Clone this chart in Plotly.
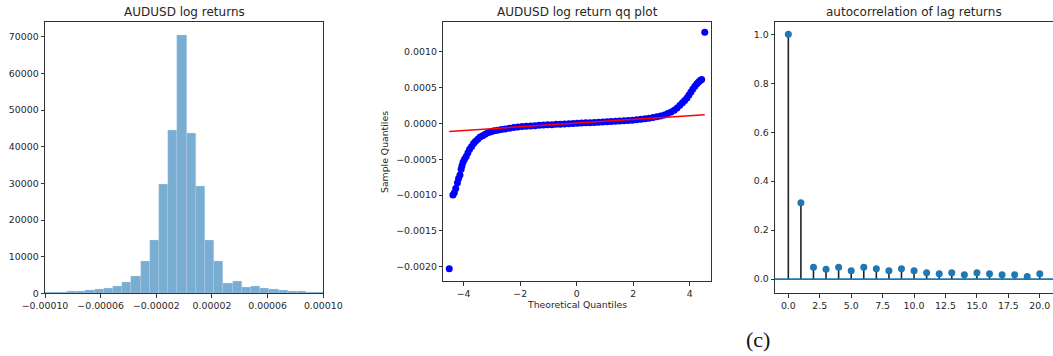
import plotly.graph_objects as go

# ---------------- data ----------------
# Histogram of AUDUSD log returns (uniform bins)
hist_bin_start = -1.04e-4
hist_bin_width = 6.61e-6
hist_counts = [280, 280, 280, 460, 460, 740, 1020, 1390, 1850, 2960,
               4630, 8800, 14600, 29800, 44400, 70400, 43800, 29200, 14400, 8800,
               2780, 3240, 1670, 1850, 1300, 1020, 740, 460, 460, 280, 280]
hist_xticks = [-0.0001, -0.00006, -0.00002, 0.00002, 0.00006, 0.0001]
hist_xticklabels = ["\u22120.00010", "\u22120.00006", "\u22120.00002", "0.00002", "0.00006", "0.00010"]
hist_yticks = [0, 10000, 20000, 30000, 40000, 50000, 60000, 70000]

# QQ plot
qq_theoretical = [-4.51, -4.38, -4.33, -4.28, -4.22, -4.18, -4.13, -4.09, -4.06, -4.02,
                  -3.97, -3.91, -3.85, -3.79, -3.72, -3.65, -3.58, -3.50, -3.42, -3.33,
                  -3.24, -3.14, -3.03, -2.92, -2.80, -2.67, -2.53, -2.38, -2.23, -2.08,
                  -1.93, -1.78, -1.63, -1.48, -1.33, -1.18, -1.03, -0.88, -0.73, -0.58,
                  -0.43, -0.28, -0.13, 0.02, 0.17, 0.32, 0.47, 0.62, 0.77, 0.92,
                  1.07, 1.22, 1.37, 1.52, 1.67, 1.82, 1.97, 2.12, 2.27, 2.42,
                  2.56, 2.70, 2.84, 2.97, 3.10, 3.22, 3.34, 3.45, 3.55, 3.65,
                  3.74, 3.82, 3.90, 3.97, 4.04, 4.11, 4.18, 4.25, 4.31, 4.37,
                  4.42, 4.53]
qq_sample = [-0.00203, -0.00100, -0.00097, -0.00091, -0.00083, -0.00077, -0.00072, -0.00064, -0.00059, -0.00054,
             -0.00050, -0.00046, -0.00041, -0.00036, -0.00032, -0.00028, -0.00025, -0.00022, -0.00019, -0.00017,
             -0.00015, -0.00013, -0.000115, -0.000103, -0.000093, -0.000084, -0.000076, -0.000066, -0.000057, -0.000049,
             -0.000043, -0.000038, -0.000034, -0.000030, -0.000026, -0.000022, -0.000019, -0.000016, -0.000012, -0.000009,
             -0.000006, -0.000003, 0.000000, 0.000003, 0.000006, 0.000009, 0.000012, 0.000015, 0.000018, 0.000021,
             0.000024, 0.000027, 0.000030, 0.000034, 0.000038, 0.000042, 0.000047, 0.000052, 0.000058, 0.000065,
             0.000073, 0.000082, 0.000093, 0.000105, 0.000120, 0.000138, 0.000160, 0.000185, 0.000215, 0.000255,
             0.000290, 0.000322, 0.000358, 0.000398, 0.000440, 0.000482, 0.000522, 0.000556, 0.000580, 0.000600,
             0.000615, 0.001274]
qq_line_slope = 2.57e-5
qq_line_intercept = 5e-6
qq_xticks = [-4, -2, 0, 2, 4]
qq_yticks = [-0.0020, -0.0015, -0.0010, -0.0005, 0.0, 0.0005, 0.0010]

# Autocorrelation
acf_lags = list(range(21))
acf_values = [1.0, 0.312, 0.048, 0.040, 0.048, 0.034, 0.048, 0.042, 0.034, 0.042,
              0.034, 0.026, 0.022, 0.026, 0.018, 0.026, 0.022, 0.018, 0.018, 0.011, 0.022]

titles = ["AUDUSD log returns", "AUDUSD log return qq plot", "autocorrelation of lag returns"]

# ---------------- figure ----------------
W, H = 1053, 356
FONT = "DejaVu Sans"
TXT = "#262626"
SPINE = "#333333"
BLUE = "#1f77b4"

fig = go.Figure()

# Histogram (bars drawn through the bar trace and axis scale)
centers = [hist_bin_start + (i + 0.5) * hist_bin_width for i in range(len(hist_counts))]
fig.add_trace(go.Bar(x=centers, y=hist_counts, width=hist_bin_width,
                     marker=dict(color="rgba(31,119,180,0.6)",
                                 line=dict(color="rgba(200,222,240,0.6)", width=0.5)),
                     xaxis="x", yaxis="y", showlegend=False))

# QQ scatter + reference line
fig.add_trace(go.Scatter(x=qq_theoretical, y=qq_sample, mode="markers",
                         marker=dict(color="#0000ff", size=7),
                         xaxis="x2", yaxis="y2", showlegend=False))
qx = [min(qq_theoretical), max(qq_theoretical)]
fig.add_trace(go.Scatter(x=qx, y=[qq_line_intercept + qq_line_slope * v for v in qx], mode="lines",
                         line=dict(color="#ff0000", width=1.5),
                         xaxis="x2", yaxis="y2", showlegend=False))

# ACF stems
sx, sy = [], []
for lag, v in zip(acf_lags, acf_values):
    sx += [lag, lag, None]
    sy += [0, v, None]
fig.add_trace(go.Scatter(x=sx, y=sy, mode="lines", line=dict(color="#222222", width=1.6),
                         xaxis="x3", yaxis="y3", showlegend=False))
fig.add_trace(go.Scatter(x=[-2, 22], y=[0, 0], mode="lines", line=dict(color=BLUE, width=1.8),
                         xaxis="x3", yaxis="y3", showlegend=False))
fig.add_trace(go.Scatter(x=acf_lags, y=acf_values, mode="markers",
                         marker=dict(color=BLUE, size=7),
                         xaxis="x3", yaxis="y3", showlegend=False))

def ax(**kw):
    base = dict(showgrid=False, zeroline=False, showline=True, mirror=True,
                linecolor=SPINE, linewidth=1, ticks="outside", ticklen=3.5,
                tickwidth=0.9, tickcolor=SPINE, automargin=False,
                tickfont=dict(family=FONT, size=9.4, color=TXT))
    base.update(kw)
    return base

def px_x(p):
    return p / W

def px_y(p):
    return 1 - p / H

fig.update_layout(
    width=W, height=H,
    margin=dict(l=0, r=0, t=0, b=0, autoexpand=False),
    paper_bgcolor="white", plot_bgcolor="white",
    bargap=0,
    xaxis=ax(domain=[px_x(45), px_x(323.3)], range=[-0.0001, 0.0001],
             tickvals=hist_xticks, ticktext=hist_xticklabels, anchor="y"),
    yaxis=ax(domain=[px_y(293.3), px_y(22.3)], range=[0, 74000],
             tickvals=hist_yticks, tickformat="d", anchor="x"),
    xaxis2=ax(domain=[px_x(443.3), px_x(710.7)], range=[-4.72, 4.74],
              tickvals=qq_xticks, anchor="y2"),
    yaxis2=ax(domain=[px_y(281), px_y(21.7)], range=[-0.002202, 0.001423],
              tickvals=qq_yticks, tickformat=".4f", anchor="x2"),
    xaxis3=ax(domain=[px_x(775), 1.0], range=[-1.06, 21.05],
              dtick=2.5, tick0=0, tickformat=".1f", anchor="y3"),
    yaxis3=ax(domain=[px_y(293.3), px_y(22.3)], range=[-0.058, 1.049],
              dtick=0.2, tick0=0, tickformat=".1f", anchor="x3"),
)

ann = []
title_centers = [(45 + 323.3) / 2, (443.3 + 710.7) / 2, (775 + 1053) / 2]
for t, cx in zip(titles, title_centers):
    ann.append(dict(text=t, x=px_x(cx), y=px_y(12), xref="paper", yref="paper",
                    xanchor="center", yanchor="middle", showarrow=False,
                    font=dict(family=FONT, size=12, color=TXT)))
ann.append(dict(text="Theoretical Quantiles", x=px_x(577), y=px_y(304),
                xref="paper", yref="paper", xanchor="center", yanchor="middle",
                showarrow=False, font=dict(family=FONT, size=9.3, color=TXT)))
ann.append(dict(text="Sample Quantiles", x=px_x(385), y=px_y(152),
                xref="paper", yref="paper", xanchor="center", yanchor="middle",
                textangle=-90, showarrow=False, font=dict(family=FONT, size=9.3, color=TXT)))
ann.append(dict(text="(c)", x=px_x(758), y=px_y(339),
                xref="paper", yref="paper", xanchor="center", yanchor="middle",
                showarrow=False, font=dict(family="Liberation Serif", size=22, color="#111111")))
fig.update_layout(annotations=ann)

fig.write_html("out.html", config={"displayModeBar": False},
               post_script="document.body.style.margin='0';document.body.style.overflow='hidden';")
